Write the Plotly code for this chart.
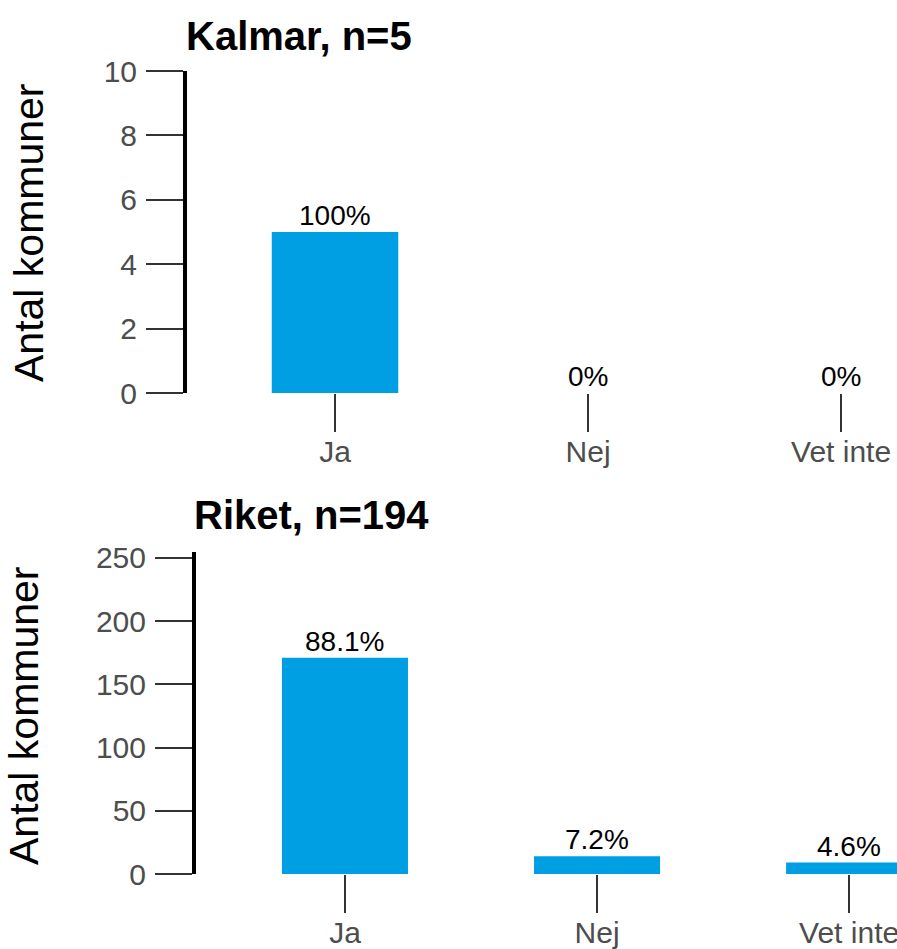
import plotly.graph_objects as go

categories = ["Ja", "Nej", "Vet inte"]
kalmar_values = [5, 0, 0]
riket_values = [171, 14, 9]
kalmar_title = "Kalmar, n=5"
riket_title = "Riket, n=194"
kalmar_yticks = [0, 2, 4, 6, 8, 10]
riket_yticks = [0, 50, 100, 150, 200, 250]
y_title = "Antal kommuner"

BAR = "#009FE3"
FONT = "Liberation Sans, Arial, sans-serif"
TICKCOL = "#333333"
LABCOL = "#4D4D4D"

W, H = 897, 949


def px_x(X):
    return X / W


def px_y(Y):
    return 1 - Y / H


def pct_labels(vals):
    n = sum(vals)
    out = []
    for v in vals:
        p = round(v / n * 100, 1)
        s = f"{p:.1f}".rstrip("0").rstrip(".")
        out.append(s + "%")
    return out


fig = go.Figure()
fig.add_trace(go.Bar(x=categories, y=kalmar_values, marker=dict(color=BAR, line=dict(width=0)), width=0.5,
                     xaxis="x", yaxis="y", showlegend=False, hoverinfo="skip"))
fig.add_trace(go.Bar(x=categories, y=riket_values, marker=dict(color=BAR, line=dict(width=0)), width=0.5,
                     xaxis="x2", yaxis="y2", showlegend=False, hoverinfo="skip"))

annotations = []
for xref, yref, vals in (("x", "y", kalmar_values), ("x2", "y2", riket_values)):
    for c, v, t in zip(categories, vals, pct_labels(vals)):
        annotations.append(dict(x=c, y=v, xref=xref, yref=yref, text=t, showarrow=False,
                                yanchor="bottom", xanchor="center", yshift=-1,
                                font=dict(family=FONT, size=28, color="black")))

# titles
annotations.append(dict(x=px_x(299), y=px_y(36), xref="paper", yref="paper", text="<b>" + kalmar_title + "</b>",
                        showarrow=False, xanchor="center", yanchor="middle",
                        font=dict(family=FONT, size=40, color="black")))
annotations.append(dict(x=px_x(311), y=px_y(515), xref="paper", yref="paper", text="<b>" + riket_title + "</b>",
                        showarrow=False, xanchor="center", yanchor="middle",
                        font=dict(family=FONT, size=40, color="black")))
# y-axis titles
annotations.append(dict(x=px_x(29), y=px_y(233), xref="paper", yref="paper", text=y_title,
                        showarrow=False, xanchor="center", yanchor="middle", textangle=-90,
                        font=dict(family=FONT, size=41, color="black")))
annotations.append(dict(x=px_x(24), y=px_y(716), xref="paper", yref="paper", text=y_title,
                        showarrow=False, xanchor="center", yanchor="middle", textangle=-90,
                        font=dict(family=FONT, size=41, color="black")))

xcommon = dict(showgrid=False, zeroline=False, showline=False, ticks="outside", ticklen=38,
               tickwidth=2, tickcolor=TICKCOL, tickfont=dict(family=FONT, size=30, color=LABCOL),
               fixedrange=True, automargin=False, ticklabelstandoff=-6)
ycommon = dict(showgrid=False, zeroline=False, showline=True, linecolor="black", linewidth=4,
               ticks="outside", ticklen=37, tickwidth=2, tickcolor=TICKCOL,
               tickfont=dict(family=FONT, size=30, color=LABCOL), ticklabelstandoff=3,
               fixedrange=True, automargin=False)

fig.update_layout(
    template="none",
    width=W, height=H,
    margin=dict(l=0, r=0, t=0, b=0, pad=0, autoexpand=False),
    paper_bgcolor="white", plot_bgcolor="white",
    font=dict(family=FONT),
    xaxis=dict(domain=[px_x(187), 1], range=[-0.585, 2.221], anchor="y", **xcommon),
    yaxis=dict(domain=[px_y(393), px_y(71)], range=[0, 10], tickvals=kalmar_yticks,
               anchor="x", **ycommon),
    xaxis2=dict(domain=[px_x(196), 1], range=[-0.591, 2.19], anchor="y2", **xcommon),
    yaxis2=dict(domain=[px_y(874), px_y(552)], range=[0, 254.7], tickvals=riket_yticks,
                anchor="x2", **ycommon),
    annotations=annotations,
)

fig.write_html("out.html", config={"displayModeBar": False, "staticPlot": True},
               post_script="document.body.style.margin='0';document.body.style.overflow='hidden';")
